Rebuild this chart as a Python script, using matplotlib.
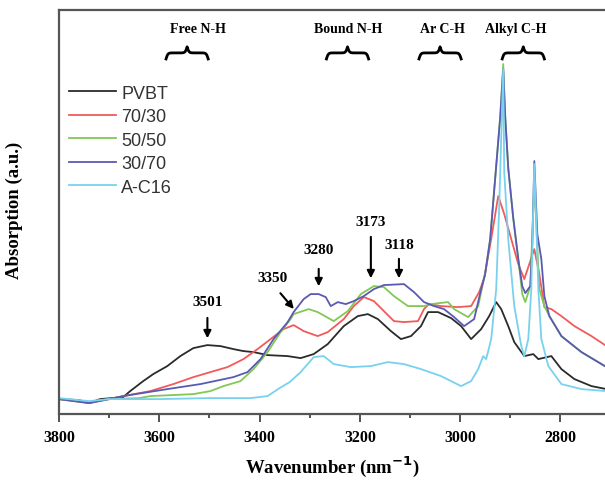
import numpy as np
import matplotlib
matplotlib.use('Agg')
import matplotlib.pyplot as plt
from matplotlib.ticker import MultipleLocator

# Spectra (wavenumber, absorption a.u.)
wn_pvbt = [3800, 3760, 3740, 3718, 3672, 3658, 3632, 3612, 3584, 3558, 3532, 3504, 3478, 3452,
           3432, 3412, 3384, 3344, 3318, 3292, 3264, 3232, 3204, 3184, 3164, 3138, 3118, 3098,
           3078, 3064, 3044, 3018, 2998, 2978, 2958, 2942, 2928, 2918, 2904, 2892, 2872, 2854,
           2844, 2818, 2798, 2772, 2738, 2708]
ab_pvbt = [0.15, 0.14, 0.11, 0.15, 0.17, 0.23, 0.33, 0.40, 0.48, 0.58, 0.66, 0.69, 0.68, 0.65,
           0.63, 0.62, 0.59, 0.58, 0.56, 0.60, 0.70, 0.88, 0.98, 1.00, 0.95, 0.83, 0.75, 0.78,
           0.88, 1.02, 1.02, 0.96, 0.88, 0.75, 0.85, 0.98, 1.12, 1.05, 0.88, 0.72, 0.58, 0.60,
           0.55, 0.58, 0.45, 0.35, 0.28, 0.25]

wn_7030 = [3800, 3740, 3700, 3672, 3618, 3572, 3532, 3498, 3464, 3432, 3404, 3378, 3352, 3332,
           3312, 3284, 3264, 3232, 3212, 3192, 3172, 3152, 3132, 3112, 3084, 3072, 3062, 3038,
           3004, 2978, 2962, 2952, 2938, 2924, 2912, 2898, 2884, 2872, 2852, 2842, 2832, 2818,
           2798, 2772, 2738, 2708]
ab_7030 = [0.15, 0.11, 0.15, 0.18, 0.23, 0.30, 0.37, 0.42, 0.47, 0.55, 0.65, 0.75, 0.85, 0.89,
           0.83, 0.78, 0.82, 0.95, 1.08, 1.17, 1.13, 1.03, 0.93, 0.92, 0.93, 1.05, 1.10, 1.08,
           1.07, 1.08, 1.22, 1.36, 1.75, 2.18, 2.00, 1.75, 1.50, 1.35, 1.65, 1.40, 1.07, 1.05,
           0.98, 0.88, 0.78, 0.68]

wn_5050 = [3800, 3740, 3700, 3640, 3618, 3532, 3498, 3472, 3438, 3412, 3384, 3358, 3338, 3332,
           3302, 3284, 3252, 3224, 3198, 3172, 3152, 3132, 3104, 3072, 3058, 3024, 3012, 2984,
           2964, 2950, 2940, 2930, 2920, 2914, 2910, 2904, 2894, 2884, 2876, 2870, 2860, 2852,
           2842, 2832, 2822, 2798, 2758, 2708]
ab_5050 = [0.15, 0.12, 0.15, 0.16, 0.18, 0.20, 0.23, 0.28, 0.33, 0.45, 0.62, 0.82, 0.95, 1.00,
           1.05, 1.02, 0.93, 1.03, 1.20, 1.28, 1.27, 1.18, 1.08, 1.08, 1.10, 1.12, 1.05, 0.97,
           1.08, 1.41, 1.75, 2.36, 2.97, 3.50, 2.97, 2.46, 1.96, 1.55, 1.20, 1.12, 1.28, 2.32,
           1.25, 1.08, 0.98, 0.78, 0.62, 0.47]

wn_3070 = [3800, 3740, 3700, 3672, 3584, 3518, 3452, 3424, 3398, 3372, 3344, 3332, 3312, 3298,
           3282, 3268, 3258, 3244, 3228, 3212, 3192, 3172, 3152, 3112, 3092, 3072, 3052, 3032,
           3012, 2992, 2972, 2958, 2950, 2940, 2930, 2920, 2914, 2910, 2904, 2894, 2884, 2876,
           2870, 2860, 2856, 2852, 2846, 2838, 2832, 2822, 2798, 2758, 2708]
ab_3070 = [0.15, 0.11, 0.15, 0.18, 0.25, 0.30, 0.37, 0.42, 0.55, 0.75, 0.92, 1.02, 1.15, 1.20,
           1.20, 1.17, 1.08, 1.12, 1.10, 1.13, 1.18, 1.25, 1.29, 1.30, 1.22, 1.12, 1.08, 1.05,
           0.97, 0.88, 0.95, 1.25, 1.40, 1.75, 2.36, 2.97, 3.45, 2.97, 2.46, 1.96, 1.55, 1.28,
           1.21, 1.28, 1.70, 2.53, 1.80, 1.55, 1.18, 0.98, 0.78, 0.62, 0.47]

wn_ac16 = [3800, 3740, 3700, 3600, 3500, 3418, 3384, 3360, 3340, 3318, 3292, 3272, 3252, 3218,
           3178, 3144, 3112, 3078, 3038, 2998, 2978, 2964, 2954, 2948, 2938, 2928, 2922, 2914,
           2912, 2904, 2892, 2878, 2872, 2864, 2858, 2852, 2848, 2844, 2838, 2824, 2798, 2758,
           2708]
ab_ac16 = [0.16, 0.13, 0.15, 0.15, 0.16, 0.16, 0.18, 0.26, 0.32, 0.42, 0.57, 0.58, 0.50, 0.47,
           0.48, 0.52, 0.50, 0.45, 0.38, 0.28, 0.33, 0.45, 0.58, 0.55, 0.75, 1.25, 2.08, 3.45,
           2.42, 1.75, 1.08, 0.68, 0.58, 0.75, 1.25, 2.50, 1.90, 1.25, 0.75, 0.48, 0.30, 0.25,
           0.23]

series = [
    ('PVBT', wn_pvbt, ab_pvbt, '#2b2b2b'),
    ('70/30', wn_7030, ab_7030, '#f25a5a'),
    ('50/50', wn_5050, ab_5050, '#82c855'),
    ('30/70', wn_3070, ab_3070, '#5a5ab4'),
    ('A-C16', wn_ac16, ab_ac16, '#78d2ee'),
]

# Peak annotations: label, text (x, y), arrow start, arrow end
peak_labels = ['3501', '3350', '3280', '3173', '3118']
peak_text = [(3504, 1.13), (3374, 1.37), (3282, 1.65), (3178, 1.93), (3122, 1.70)]
peak_from = [(3504, 0.99), (3362, 1.23), (3282, 1.48), (3178, 1.80), (3122, 1.58)]
peak_to = [(3504, 0.73), (3328, 1.03), (3282, 1.25), (3178, 1.33), (3122, 1.33)]

# Band groups along the top (axes fraction positions)
band_labels = ['Free N-H', 'Bound N-H', 'Ar C-H', 'Alkyl C-H']
band_text_x = [0.253, 0.528, 0.701, 0.835]
band_brace_x = [0.234, 0.527, 0.696, 0.848]

serif = 'Liberation Serif'
fig = plt.figure(figsize=(6.05, 4.81), dpi=100)
ax = fig.add_axes([0.0975, 0.137, 0.905, 0.840])

for name, x, y, c in series:
    ax.plot(x, y, color=c, lw=1.3, label=name)

ax.set_xlim(3800, 2708)
ax.set_ylim(0, 4.04)
ax.xaxis.set_major_locator(MultipleLocator(200))
ax.xaxis.set_minor_locator(MultipleLocator(100))
ax.tick_params(axis='x', which='major', direction='out', length=6, width=1.3, colors='#444444',
               labelcolor='black', labelsize=11.5, pad=5)
ax.tick_params(axis='x', which='minor', direction='out', length=3, width=1.3, colors='#444444')
ax.set_yticks([])
for lab in ax.get_xticklabels():
    lab.set_fontfamily(serif)
    lab.set_fontweight('bold')

for s in ['left', 'top', 'bottom']:
    ax.spines[s].set_color('#555555')
    ax.spines[s].set_linewidth(1.6)
ax.spines['right'].set_visible(False)

ax.set_xlabel('Wavenumber (nm$^{\\mathbf{-1}}$)', fontfamily=serif, fontweight='bold', fontsize=13.5)
ax.xaxis.set_label_coords(0.5, -0.097)
ax.set_ylabel('Absorption (a.u.)', fontfamily=serif, fontweight='bold', fontsize=13.5)
ax.yaxis.set_label_coords(-0.066, 0.507)

leg = ax.legend(loc='upper left', bbox_to_anchor=(0.018, 0.815), frameon=False,
                borderpad=0, borderaxespad=0, handlelength=2.6, handletextpad=0.3,
                labelspacing=0.36, prop={'family': 'Liberation Sans', 'size': 13})
for t in leg.get_texts():
    t.set_color('#333333')

for lab, tp, p0, p1 in zip(peak_labels, peak_text, peak_from, peak_to):
    ax.text(tp[0], tp[1], lab, ha='center', va='center', fontfamily=serif,
            fontweight='bold', fontsize=11)
    ax.annotate('', xy=p1, xytext=p0,
                arrowprops=dict(arrowstyle='-|>', color='black', lw=1.5, mutation_scale=11))

# curly braces drawn in axes fraction
def brace(cx, width=0.077, y0=0.879, h=0.03):
    half = np.linspace(0, width / 2, 60)
    k = 45.0 / width
    yh = 1 / (1 + np.exp(-k * half)) + 1 / (1 + np.exp(-k * (half - half[-1])))
    yh = (yh - yh.min()) / (yh.max() - yh.min())
    xs = np.concatenate([cx - width / 2 + half, cx + width / 2 - half[::-1][1:]])
    ys = np.concatenate([yh, yh[::-1][1:]])
    ax.plot(xs, y0 + ys * h, color='black', lw=2.0, transform=ax.transAxes, clip_on=False)

for lab, tx, bx in zip(band_labels, band_text_x, band_brace_x):
    ax.text(tx, 0.955, lab, transform=ax.transAxes, ha='center', va='center',
            fontfamily=serif, fontweight='bold', fontsize=10)
    brace(bx)

fig.savefig('out.png', dpi=100)
